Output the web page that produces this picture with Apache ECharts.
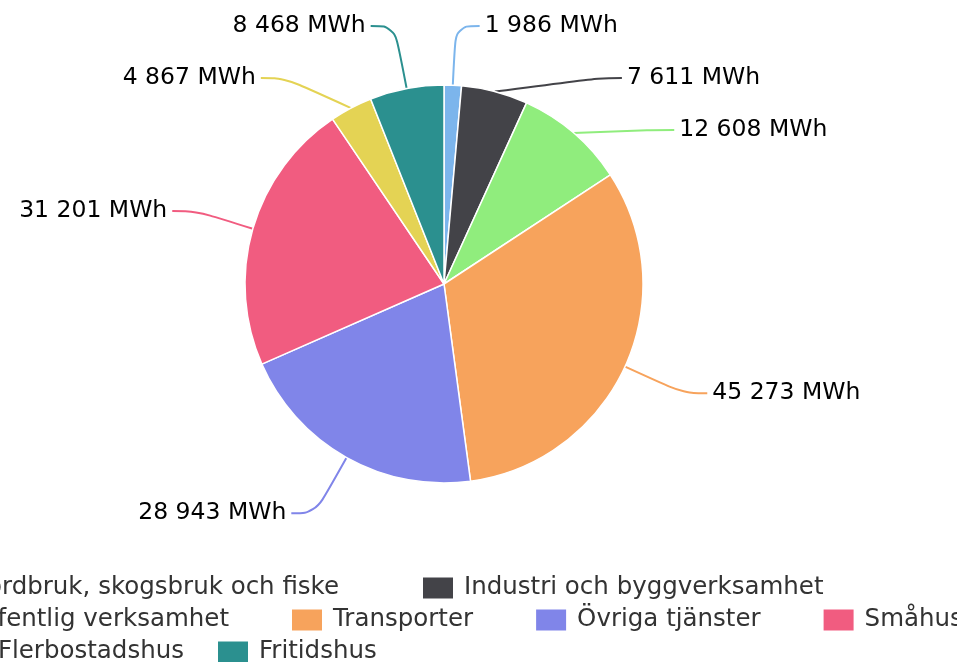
<!DOCTYPE html>
<html>
<head>
<meta charset="utf-8">
<script src="https://cdn.jsdelivr.net/npm/echarts@6/dist/echarts.min.js"></script>
<style>
html,body{margin:0;padding:0;background:#fff;}
#chart{width:957px;height:662px;}
</style>
</head>
<body>
<div id="chart"></div>
<script>
const categories = ["Jordbruk, skogsbruk och fiske", "Industri och byggverksamhet", "Offentlig verksamhet", "Transporter", "Övriga tjänster", "Småhus", "Flerbostadshus", "Fritidshus"];
const values = [1986, 7611, 12608, 45273, 28943, 31201, 4867, 8468];
const colors = ["#7cb5ec", "#434348", "#90ed7d", "#f7a35c", "#8085e9", "#f15c80", "#e4d354", "#2b908f"];
const legendRows = [
  ["Jordbruk, skogsbruk och fiske", "Industri och byggverksamhet"],
  ["Offentlig verksamhet", "Transporter", "Övriga tjänster", "Småhus"],
  ["Flerbostadshus", "Fritidshus"]
];
const unit = "MWh";

const legendFontSize = 24.5;
const cv = document.createElement('canvas').getContext('2d');
cv.font = legendFontSize + 'px "DejaVu Sans"';
function tw(s){ return cv.measureText(s).width; }

const symW = 32, symH = 23, textGap = 10;
// row config: where the first item's text should end, gap to next item, row centre y
const rowCfg = [
  {firstTextEnd: 338, gap: 82, cy: 587},
  {firstTextEnd: 228, gap: 61, cy: 619},
  {firstTextEnd: 183, gap: 32, cy: 651}
];
const legends = legendRows.map((row, i) => {
  const c = rowCfg[i];
  return {
    data: row,
    orient: 'horizontal',
    left: c.firstTextEnd - tw(row[0]) - textGap - symW,
    top: c.cy - symH / 2,
    width: 2000,
    padding: 0,
    itemGap: c.gap,
    itemWidth: symW,
    itemHeight: symH,
    icon: 'rect',
    selectedMode: false,
    textStyle: {fontFamily: 'DejaVu Sans', fontSize: legendFontSize, color: '#333333', lineHeight: symH, padding: [0, 0, 0, textGap - 5]}
  };
});

function fmt(v){ return String(v).replace(/\B(?=(\d{3})+(?!\d))/g, ' ') + ' ' + unit; }

const chart = echarts.init(document.getElementById('chart'), null, {renderer: 'canvas'});
chart.setOption({
  animation: false,
  color: colors,
  legend: legends,
  series: [{
    type: 'pie',
    center: [444, 284],
    radius: 199,
    startAngle: 90,
    clockwise: true,
    data: categories.map((n, i) => ({name: n, value: values[i]})),
    itemStyle: {borderColor: '#fff', borderWidth: 1.5},
    label: {
      show: true,
      position: 'outside',
      formatter: p => fmt(p.value),
      fontFamily: 'DejaVu Sans',
      fontSize: 23.5,
      color: '#000',
      lineHeight: 50,
      textBorderColor: '#fff',
      textBorderWidth: 2
    },
    labelLine: {show: true, length: 64, length2: 24, smooth: 0.4, lineStyle: {width: 2}},
    emphasis: {disabled: true}
  }]
});
</script>
</body>
</html>
